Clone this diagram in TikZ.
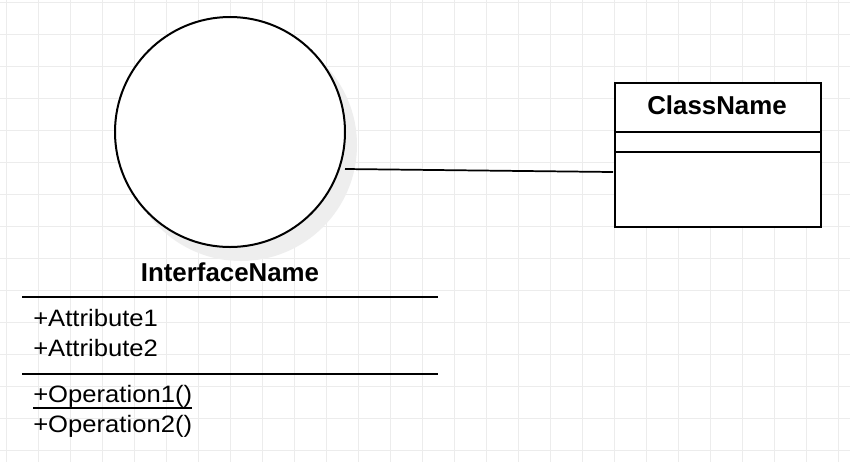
\documentclass[tikz,border=0pt]{standalone}
\usepackage{fontspec}
\setmainfont{Liberation Sans}
\newfontfamily\memberfont[FakeStretch=1.08]{Liberation Sans}
\usetikzlibrary{positioning}
\definecolor{gridgray}{RGB}{236,236,236}
\definecolor{shadowgray}{RGB}{238,238,238}

\begin{document}
\begin{tikzpicture}[x=0.75pt, y=-0.75pt]

    \def\d{22.1pt}

    % Styles for the names, the members and the rules
    \tikzset{
        title/.style={font=\fontsize{19.4}{23}\selectfont\bfseries,
            inner sep=0pt, anchor=base},
        member/.style={font=\memberfont\fontsize{17.8}{21}\selectfont,
            inner sep=0pt, anchor=base west},
        rule/.style={line width=1.5pt}
    }

    % Background grid
    \fill[white] (0,0) rectangle (850,462);
    \useasboundingbox (0,0) rectangle (850,462);
    \foreach \x in {6,38,...,838}
        \draw[gridgray, line width=0.75pt] (\x,0) -- (\x,462);
    \foreach \y in {2,34,...,450}
        \draw[gridgray, line width=0.75pt] (0,\y) -- (850,\y);

    % Interface with its shadow
    \begin{scope}
        \fill[shadowgray] (241,145) circle (116);
        \node[circle, draw, fill=white, rule, minimum size=172.5pt,
            inner sep=0pt] (iface) at (230,132) {};
        \coordinate (ifaceport) at (345,169);

        \node[title] (ifacename) at (230,281) {InterfaceName};
        \draw[rule] (22,297) -- (438,297);
        \node[member] (attr1) at (33,326.7) {+Attribute1};
        \node (attr2) [below=\d of attr1.base west, member] {+Attribute2};
        \draw[rule] (22,374) -- (438,374);
        \node[member] (op1) at (33,402.7) {+Operation1()};
        \node (op2) [below=\d of op1.base west, member] {+Operation2()};
        \draw[rule] ([yshift=-4.2pt]op1.base west) -- ([yshift=-4.2pt]op1.base east);
    \end{scope}

    % Class box
    \begin{scope}
        \node[draw, rule, fill=white, minimum width=154.5pt,
            minimum height=108pt, inner sep=0pt, anchor=north west]
            (cls) at (614,82) {};
        \draw[rule] (614,132) -- (820,132);
        \draw[rule] (614,152) -- (820,152);
        \node[title] (clsname) at (717,114.3) {ClassName};
        \coordinate (clsport) at (613,172);
    \end{scope}

    \begin{scope}[line width=1.3pt]
        \draw (ifaceport) -- (clsport);
    \end{scope}

\end{tikzpicture}
\end{document}
